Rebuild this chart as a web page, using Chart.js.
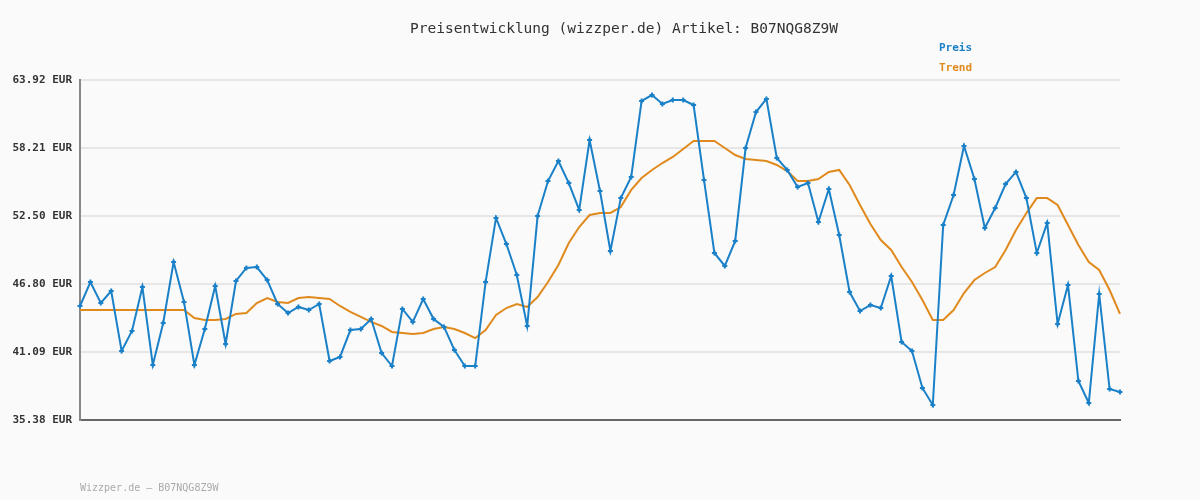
<!DOCTYPE html>
<html><head><meta charset="utf-8">
<script src="https://cdn.jsdelivr.net/npm/chart.js@4"></script>
<style>html,body{margin:0;background:#fafafa;}#w{width:1200px;height:500px;position:relative;}</style>
</head><body><div id="w"><canvas id="c" width="1200" height="500"></canvas></div>
<script>
const preis=[44.95,46.96,45.20,46.21,41.17,42.85,46.54,40.00,43.52,48.64,45.29,40.00,43.02,46.63,41.76,47.05,48.14,48.22,47.13,45.12,44.36,44.87,44.61,45.12,40.33,40.67,42.93,43.02,43.86,41.00,39.91,44.70,43.61,45.54,43.86,43.19,41.26,39.91,39.91,46.96,52.34,50.15,47.55,43.27,52.50,55.44,57.12,55.27,53.01,58.88,54.60,49.57,54.01,55.78,62.16,62.66,61.91,62.24,62.24,61.82,55.53,49.40,48.31,50.41,58.21,61.23,62.33,57.37,56.37,54.94,55.27,52.00,54.77,50.91,46.12,44.53,45.03,44.78,47.47,41.93,41.17,38.07,36.64,51.75,54.27,58.38,55.61,51.50,53.18,55.19,56.20,54.01,49.40,51.92,43.44,46.71,38.65,36.81,45.96,37.98,37.73];
const trend=[44.61,44.61,44.61,44.61,44.61,44.61,44.61,44.61,44.61,44.61,44.61,43.94,43.77,43.77,43.86,44.28,44.36,45.20,45.62,45.29,45.20,45.62,45.70,45.62,45.54,44.95,44.45,44.03,43.61,43.27,42.77,42.68,42.60,42.68,43.02,43.19,43.02,42.68,42.26,42.93,44.19,44.78,45.12,44.87,45.70,46.96,48.39,50.24,51.58,52.59,52.76,52.76,53.26,54.69,55.69,56.37,56.95,57.46,58.13,58.80,58.80,58.80,58.21,57.62,57.29,57.20,57.12,56.79,56.28,55.44,55.44,55.61,56.20,56.37,55.11,53.43,51.83,50.49,49.65,48.22,46.96,45.45,43.77,43.77,44.61,46.04,47.13,47.72,48.22,49.65,51.33,52.76,54.01,54.01,53.43,51.75,50.07,48.64,47.97,46.29,44.28];
const yTicks=[35.38,41.09,46.80,52.50,58.21,63.92];
const labels=preis.map((_,i)=>i);
const mono='"DejaVu Sans Mono", monospace';
const deco={id:'deco',afterDraw(ch){const c=ch.ctx;c.save();
c.font='14.5px '+mono;c.fillStyle='#333';c.textAlign='center';c.fillText('Preisentwicklung (wizzper.de) Artikel: B07NQG8Z9W',624,33);
c.font='bold 11px '+mono;c.textAlign='left';c.fillStyle='#1a80c8';c.fillText('Preis',939,51);c.fillStyle='#e08a1e';c.fillText('Trend',939,71);
c.font='10px '+mono;c.fillStyle='#aaa';c.fillText('Wizzper.de – B07NQG8Z9W',80,491);c.restore();}};
new Chart(document.getElementById('c'),{type:'line',
data:{labels,datasets:[
{data:preis,borderColor:'#1a80c8',backgroundColor:'#1a80c8',borderWidth:2,pointStyle:'cross',pointRadius:2.5,pointBorderWidth:2,tension:0},
{data:trend,borderColor:'#e08a1e',borderWidth:2,pointRadius:0,tension:0}]},
options:{responsive:false,animation:false,events:[],
layout:{padding:{left:0,right:80,top:80,bottom:80}},
plugins:{legend:{display:false},tooltip:{enabled:false}},
scales:{
x:{type:'category',offset:false,grid:{display:false},border:{color:'#666',width:2},ticks:{display:false},afterFit(a){a.height=0;}},
y:{min:35.38,max:63.92,afterBuildTicks(a){a.ticks=yTicks.map(v=>({value:v}));},afterFit(a){a.width=80;},
grid:{color:'#e6e6e6',lineWidth:2,drawTicks:false},border:{color:'#888',width:2},
ticks:{padding:8,color:'#333',font:{family:mono,size:11,weight:'bold'},callback:v=>v.toFixed(2)+' EUR'}}}},
plugins:[deco]});
</script></body></html>
